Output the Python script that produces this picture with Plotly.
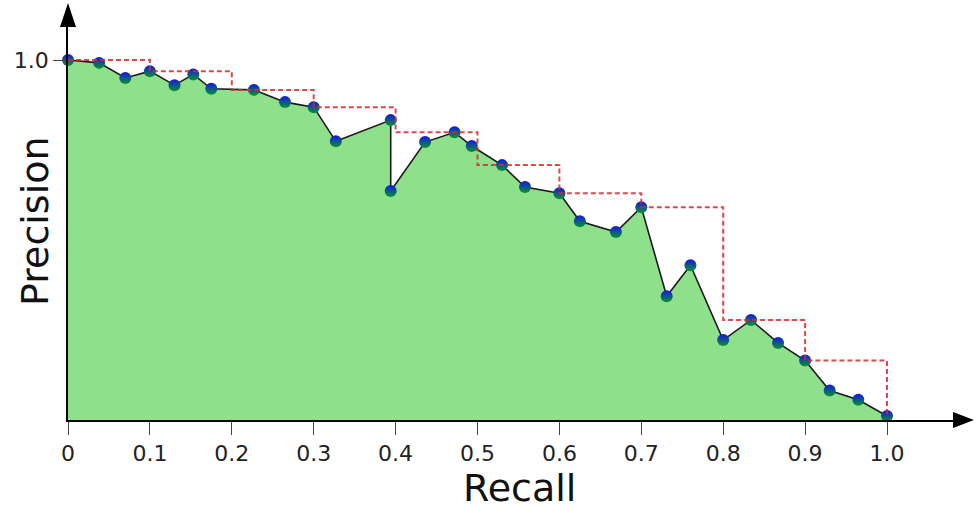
import plotly.graph_objects as go

# Precision / recall pairs of the ranked results
recall = [0.0, 0.038, 0.070, 0.100, 0.130, 0.153, 0.175, 0.227, 0.265, 0.300,
          0.327, 0.394, 0.394, 0.436, 0.472, 0.493, 0.530, 0.558, 0.600, 0.625,
          0.669, 0.700, 0.731, 0.760, 0.800, 0.834, 0.867, 0.900, 0.930, 0.965, 1.0]
precision = [1.0, 0.992, 0.950, 0.969, 0.930, 0.960, 0.920, 0.917, 0.883, 0.869,
             0.774, 0.833, 0.636, 0.772, 0.799, 0.761, 0.708, 0.647, 0.630, 0.552,
             0.522, 0.591, 0.344, 0.430, 0.222, 0.278, 0.214, 0.165, 0.082, 0.056, 0.011]

# Interpolated precision at the 11 standard recall levels
step_recall = [0.0, 0.1, 0.2, 0.3, 0.4, 0.5, 0.6, 0.7, 0.8, 0.9, 1.0]
step_precision = [1.0, 0.969, 0.917, 0.869, 0.799, 0.708, 0.630, 0.591, 0.278, 0.165, 0.011]

x_tick_vals = [0, 0.1, 0.2, 0.3, 0.4, 0.5, 0.6, 0.7, 0.8, 0.9, 1.0]
x_tick_text = ["0", "0.1", "0.2", "0.3", "0.4", "0.5", "0.6", "0.7", "0.8", "0.9", "1.0"]
y_tick_vals = [1.0]
y_tick_text = ["1.0"]

W, H = 976, 510
ML, MR, MT, MB = 68, 23, 27, 90
PW, PH = W - ML - MR, H - MT - MB
X_UNIT = 819.0   # pixels per recall unit
Y_UNIT = 360.0   # pixels per precision unit

FONT = "DejaVu Sans, Liberation Sans, sans-serif"

fig = go.Figure()

# Area under the curve with the curve itself
fig.add_trace(go.Scatter(
    x=recall, y=precision, mode="lines",
    line=dict(color="#1a1a1a", width=1.6),
    fill="tozeroy", fillcolor="#8fe08b",
    hoverinfo="skip", showlegend=False,
))

# Data points
fig.add_trace(go.Scatter(
    x=recall, y=precision, mode="markers",
    marker=dict(size=12, color="#1414e6",
                gradient=dict(type="vertical", color="#08962c"),
                line=dict(width=0)),
    cliponaxis=False, showlegend=False,
))

# Interpolated precision as a dashed staircase
fig.add_trace(go.Scatter(
    x=step_recall, y=step_precision, mode="lines",
    line=dict(color="rgba(215,40,45,0.85)", width=2, dash="5px,3px", shape="hv"),
    cliponaxis=False, showlegend=False, hoverinfo="skip",
))


def px_to_paper(px, py):
    return (px - ML) / PW, (H - MB - py) / PH


def tri(points):
    pts = [px_to_paper(*p) for p in points]
    return "M{:.5f},{:.5f} L{:.5f},{:.5f} L{:.5f},{:.5f} Z".format(
        pts[0][0], pts[0][1], pts[1][0], pts[1][1], pts[2][0], pts[2][1])


# Arrow heads at the ends of both axes
fig.add_shape(type="path", xref="paper", yref="paper",
              path=tri([(ML - 8, MT), (ML + 8, MT), (ML, 3)]),
              fillcolor="black", line=dict(width=0))
fig.add_shape(type="path", xref="paper", yref="paper",
              path=tri([(W - MR, H - MB - 8), (W - MR, H - MB + 8), (W - 2, H - MB)]),
              fillcolor="black", line=dict(width=0))

# Axis titles
fig.add_annotation(text="Recall", xref="paper", yref="paper",
                   x=px_to_paper(519, 0)[0], y=px_to_paper(0, 488)[1],
                   xanchor="center", yanchor="middle", showarrow=False,
                   font=dict(family=FONT, size=38, color="#111"))
fig.add_annotation(text="Precision", xref="paper", yref="paper",
                   x=px_to_paper(35, 0)[0], y=px_to_paper(0, 221)[1],
                   xanchor="center", yanchor="middle", showarrow=False, textangle=-90,
                   font=dict(family=FONT, size=38, color="#111"))

fig.update_xaxes(
    range=[0, PW / X_UNIT], automargin=False,
    tickvals=x_tick_vals, ticktext=x_tick_text,
    ticks="outside", ticklen=13, tickwidth=1.3, tickcolor="#444",
    showline=True, linecolor="black", linewidth=1.5,
    showgrid=False, zeroline=False,
    tickfont=dict(family=FONT, size=22, color="#222"),
)
fig.update_yaxes(
    range=[0, PH / Y_UNIT], automargin=False,
    tickvals=y_tick_vals, ticktext=y_tick_text,
    ticks="outside", ticklen=13, tickwidth=1.3, tickcolor="#444",
    showline=True, linecolor="black", linewidth=1.5,
    showgrid=False, zeroline=False,
    tickfont=dict(family=FONT, size=22, color="#222"),
)

fig.update_layout(
    width=W, height=H,
    margin=dict(l=ML, r=MR, t=MT, b=MB),
    paper_bgcolor="white", plot_bgcolor="white",
    showlegend=False,
)

fig.write_html("out.html")
